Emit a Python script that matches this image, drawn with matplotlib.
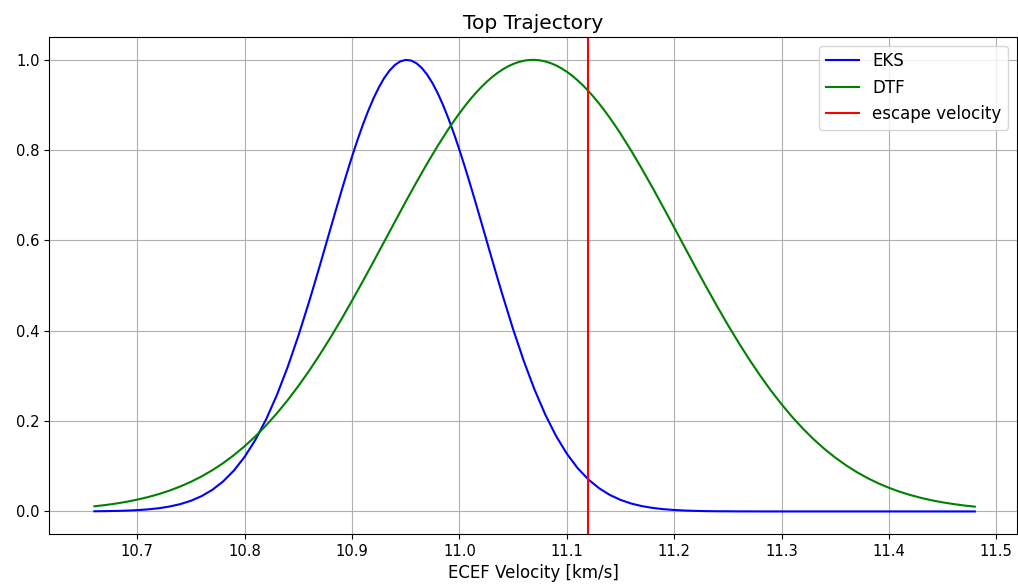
import matplotlib
matplotlib.use("Agg")
import matplotlib.pyplot as plt

velocity = [10.66, 10.67, 10.68, 10.69, 10.70, 10.71, 10.72, 10.73, 10.74, 10.75,
            10.76, 10.77, 10.78, 10.79, 10.80, 10.81, 10.82, 10.83, 10.84, 10.85,
            10.86, 10.87, 10.88, 10.89, 10.90, 10.91, 10.92, 10.93, 10.94, 10.95,
            10.96, 10.97, 10.98, 10.99, 11.00, 11.01, 11.02, 11.03, 11.04, 11.05,
            11.06, 11.07, 11.08, 11.09, 11.10, 11.11, 11.12, 11.13, 11.14, 11.15,
            11.16, 11.17, 11.18, 11.19, 11.20, 11.21, 11.22, 11.23, 11.24, 11.25,
            11.26, 11.27, 11.28, 11.29, 11.30, 11.31, 11.32, 11.33, 11.34, 11.35,
            11.36, 11.37, 11.38, 11.39, 11.40, 11.41, 11.42, 11.43, 11.44, 11.45,
            11.46, 11.47, 11.48]

eks = [0.0004, 0.0007, 0.0011, 0.0018, 0.0029, 0.0046, 0.0071, 0.0109, 0.0162, 0.0237,
       0.0341, 0.0481, 0.0667, 0.0907, 0.1211, 0.1587, 0.2041, 0.2578, 0.3196, 0.3889,
       0.4645, 0.5447, 0.6270, 0.7085, 0.7860, 0.8559, 0.9149, 0.9600, 0.9889, 0.9999,
       0.9925, 0.9671, 0.9251, 0.8686, 0.8007, 0.7245, 0.6435, 0.5611, 0.4803, 0.4035,
       0.3328, 0.2695, 0.2142, 0.1671, 0.1280, 0.0962, 0.0710, 0.0515, 0.0366, 0.0256,
       0.0175, 0.0118, 0.0078, 0.0050, 0.0032, 0.0020, 0.0012, 0.0007, 0.0004, 0.0003,
       0.0001, 0.0001, 0.0, 0.0, 0.0, 0.0, 0.0, 0.0, 0.0, 0.0,
       0.0, 0.0, 0.0, 0.0, 0.0, 0.0, 0.0, 0.0, 0.0, 0.0,
       0.0, 0.0, 0.0]

dtf = [0.0114, 0.0141, 0.0174, 0.0214, 0.0262, 0.0318, 0.0384, 0.0462, 0.0553, 0.0657,
       0.0778, 0.0915, 0.1071, 0.1248, 0.1445, 0.1664, 0.1907, 0.2173, 0.2463, 0.2777,
       0.3114, 0.3474, 0.3854, 0.4252, 0.4668, 0.5096, 0.5533, 0.5976, 0.6420, 0.6861,
       0.7291, 0.7707, 0.8104, 0.8476, 0.8817, 0.9123, 0.9388, 0.9610, 0.9784, 0.9908,
       0.9981, 1.0000, 0.9965, 0.9877, 0.9737, 0.9548, 0.9313, 0.9035, 0.8718, 0.8367,
       0.7988, 0.7584, 0.7163, 0.6729, 0.6288, 0.5843, 0.5401, 0.4966, 0.4542, 0.4131,
       0.3738, 0.3364, 0.3011, 0.2680, 0.2374, 0.2091, 0.1832, 0.1596, 0.1383, 0.1193,
       0.1023, 0.0872, 0.0740, 0.0624, 0.0524, 0.0437, 0.0363, 0.0300, 0.0246, 0.0201,
       0.0164, 0.0132, 0.0106]

# extra readings near the peaks (between the 0.01 samples)
eks_peak_velocity = [10.865, 10.875, 10.885, 10.895, 10.905, 10.915, 10.925, 10.935, 10.945,
                     10.955, 10.965, 10.975, 10.985, 10.995, 11.005, 11.015, 11.025, 11.035]
eks_peak = [0.5042, 0.5858, 0.6681, 0.7480, 0.8221, 0.8869, 0.9393, 0.9766, 0.9967,
            0.9985, 0.9820, 0.9481, 0.8985, 0.8359, 0.7634, 0.6844, 0.6023, 0.5203]

dtf_peak_velocity = [10.995, 11.005, 11.015, 11.025, 11.035, 11.045, 11.055, 11.065,
                     11.075, 11.085, 11.095, 11.105, 11.115, 11.125, 11.135, 11.145]
dtf_peak = [0.8650, 0.8974, 0.9261, 0.9505, 0.9703, 0.9853, 0.9951, 0.9997,
            0.9989, 0.9927, 0.9813, 0.9649, 0.9436, 0.9179, 0.8881, 0.8547]

escape_velocity = 11.12

eks_pts = sorted(zip(velocity + eks_peak_velocity, eks + eks_peak))
dtf_pts = sorted(zip(velocity + dtf_peak_velocity, dtf + dtf_peak))

fig = plt.figure(figsize=(10.18, 5.88), dpi=100)
ax = fig.add_axes([0.0484, 0.0918, 0.9503, 0.8448])
ax.plot([p[0] for p in eks_pts], [p[1] for p in eks_pts], color="b", linewidth=1.5, label="EKS")
ax.plot([p[0] for p in dtf_pts], [p[1] for p in dtf_pts], color="g", linewidth=1.5, label="DTF")
ax.axvline(escape_velocity, color="r", linewidth=1.5, label="escape velocity")
ax.set_xlim(10.618, 11.519)
ax.set_ylim(-0.05, 1.05)
ax.set_xticks([10.7, 10.8, 10.9, 11.0, 11.1, 11.2, 11.3, 11.4, 11.5])
ax.set_yticks([0.0, 0.2, 0.4, 0.6, 0.8, 1.0])
ax.tick_params(labelsize=10.6)
ax.grid(True)
ax.set_title("Top Trajectory", fontsize=14.5)
ax.set_xlabel("ECEF Velocity [km/s]", fontsize=12)
ax.legend(loc="upper right", fontsize=12)
fig.savefig("out.png", dpi=100)
